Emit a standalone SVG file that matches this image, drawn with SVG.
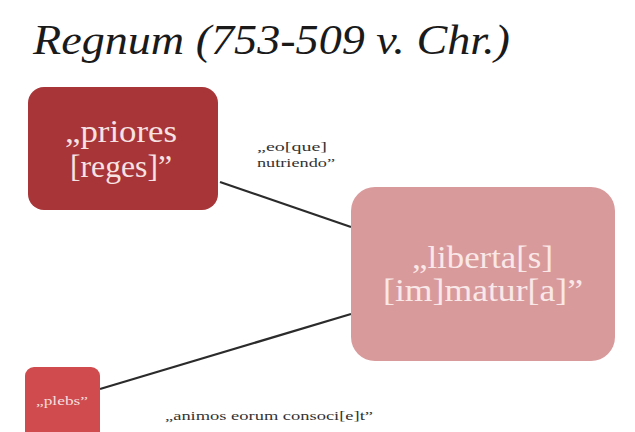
<svg xmlns="http://www.w3.org/2000/svg" width="635" height="432" viewBox="0 0 635 432">
<style>
.t{font-family:'Liberation Serif','DejaVu Serif','Times New Roman',serif}
.node{font-family:'Liberation Serif','DejaVu Serif','Times New Roman',serif}
.lbl{font-family:'Liberation Serif','DejaVu Serif','Times New Roman',serif;fill:#333;font-size:12px}
.conn{stroke:#2b2b2b;stroke-width:2.2;fill:none}
</style>
<rect width="635" height="432" fill="#ffffff"/>
<text class="t" x="33" y="54" font-size="42" font-style="italic" fill="#1a1a1a" textLength="477" lengthAdjust="spacingAndGlyphs">Regnum (753-509 v. Chr.)</text>
<g id="connectors">
<line class="conn" x1="220" y1="182" x2="351" y2="227"/>
<line class="conn" x1="100" y1="389" x2="351" y2="314"/>
</g>
<g id="node-priores">
<rect x="28" y="87" width="190" height="123" rx="16" fill="#a83538"/>
<text class="node" x="65" y="142" font-size="31" fill="#f6e2e2" textLength="112" lengthAdjust="spacingAndGlyphs">„priores</text>
<text class="node" x="70" y="177" font-size="31" fill="#f6e2e2" textLength="102" lengthAdjust="spacingAndGlyphs">[reges]”</text>
</g>
<g id="node-libertas">
<rect x="351" y="187" width="264" height="174" rx="24" fill="#d99a9c"/>
<text class="node" x="412" y="268" font-size="31" fill="#f9e8e8" textLength="141" lengthAdjust="spacingAndGlyphs">„liberta[s]</text>
<text class="node" x="383" y="301" font-size="31" fill="#f9e8e8" textLength="200" lengthAdjust="spacingAndGlyphs">[im]matur[a]”</text>
</g>
<g id="node-plebs">
<rect x="25" y="367" width="75" height="75" rx="9" fill="#cf4b4d"/>
<text class="node" x="36" y="405" font-size="12" fill="#f6dede" textLength="52" lengthAdjust="spacingAndGlyphs">„plebs”</text>
</g>
<g id="label-eoque">
<text class="lbl" x="257" y="151" textLength="70" lengthAdjust="spacingAndGlyphs">„eo[que]</text>
<text class="lbl" x="257" y="167" textLength="78" lengthAdjust="spacingAndGlyphs">nutriendo”</text>
</g>
<g id="label-animos">
<text class="lbl" x="165" y="420" textLength="208" lengthAdjust="spacingAndGlyphs">„animos eorum consoci[e]t”</text>
</g>
</svg>
